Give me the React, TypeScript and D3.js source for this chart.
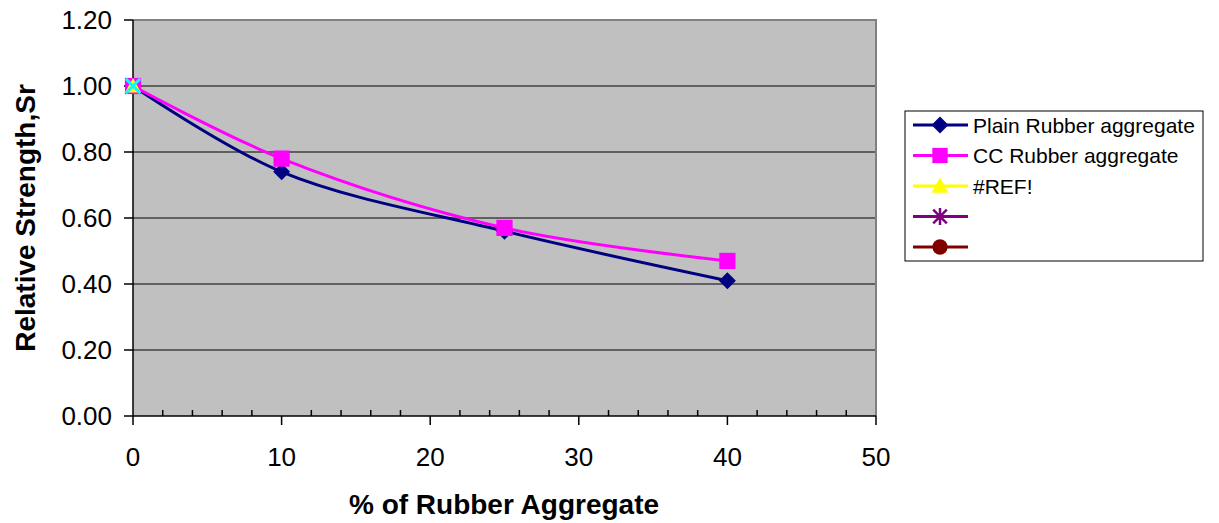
import React from "react";
import * as d3 from "d3";

// Rubber aggregate content (%) and relative strength values
const plainX = [0, 10, 25, 40];
const plainY = [1.0, 0.74, 0.56, 0.41];
const ccX = [0, 10, 25, 40];
const ccY = [1.0, 0.78, 0.57, 0.47];
const refX = [0];
const refY = [1.0];
const extraX = [0];
const extraY = [1.0];

const xTicks = [0, 10, 20, 30, 40, 50];
const xMinorTicks = d3.range(0, 51, 2);
const yTicks = [0, 0.2, 0.4, 0.6, 0.8, 1.0, 1.2];

const legendLabels = ["Plain Rubber aggregate", "CC Rubber aggregate", "#REF!", "", ""];
const legendColors = ["#000080", "#FF00FF", "#FFFF00", "#800080", "#800000"];
const legendShapes = ["diamond", "square", "triangle", "star", "circle"];

const W = 1219;
const H = 523;
const left = 133;
const right = 876;
const top = 20;
const bottom = 416;

const x = d3.scaleLinear().domain([0, 50]).range([left, right]);
const y = d3.scaleLinear().domain([0, 1.2]).range([bottom, top]);

const FONT = "Arial, 'Liberation Sans', sans-serif";

function Marker({ shape, cx, cy, color, size }: { shape: string; cx: number; cy: number; color: string; size: number }) {
  const h = size / 2;
  if (shape === "diamond") {
    return <path d={`M${cx},${cy - h}L${cx + h},${cy}L${cx},${cy + h}L${cx - h},${cy}Z`} fill={color} />;
  }
  if (shape === "square") {
    const s = size * 0.9;
    return <rect x={cx - s / 2} y={cy - s / 2} width={s} height={s} fill={color} />;
  }
  if (shape === "triangle") {
    return <path d={`M${cx},${cy - h}L${cx + h},${cy + h * 0.8}L${cx - h},${cy + h * 0.8}Z`} fill={color} />;
  }
  if (shape === "x") {
    const s = h * 0.8;
    return (
      <path d={`M${cx - s},${cy - s}L${cx + s},${cy + s}M${cx + s},${cy - s}L${cx - s},${cy + s}`} stroke={color} strokeWidth={3} />
    );
  }
  if (shape === "star") {
    const s = h * 0.8;
    return (
      <path
        d={`M${cx - s},${cy - s}L${cx + s},${cy + s}M${cx + s},${cy - s}L${cx - s},${cy + s}M${cx},${cy - h}L${cx},${cy + h}`}
        stroke={color}
        strokeWidth={2.5}
      />
    );
  }
  return <circle cx={cx} cy={cy} r={h * 0.9} fill={color} />;
}

export default function App() {
  const line = d3
    .line<[number, number]>()
    .x((d) => x(d[0]))
    .y((d) => y(d[1]))
    .curve(d3.curveCatmullRom.alpha(0.5));

  const plain = plainX.map((v, i) => [v, plainY[i]] as [number, number]);
  const cc = ccX.map((v, i) => [v, ccY[i]] as [number, number]);

  const lx = 905;
  const ly = 111;
  const rowY = (i: number) => 125 + i * 30.5;

  return (
    <svg width={W} height={H} style={{ position: "absolute", left: 0, top: 0, background: "#fff" }} fontFamily={FONT}>
      <rect x={left} y={top} width={right - left} height={bottom - top} fill="#C0C0C0" />
      {/* horizontal gridlines */}
      {yTicks.slice(1).map((t) => (
        <line key={t} x1={left} x2={right} y1={y(t)} y2={y(t)} stroke="#000" strokeWidth={1} />
      ))}
      {/* plot frame top & right */}
      <line x1={left} x2={right + 1} y1={top} y2={top} stroke="#808080" strokeWidth={2} />
      <line x1={right} x2={right} y1={top} y2={bottom} stroke="#808080" strokeWidth={2} />

      {/* axes */}
      <line x1={left} x2={left} y1={top} y2={bottom} stroke="#000" strokeWidth={1.5} />
      <line x1={left} x2={right} y1={bottom} y2={bottom} stroke="#000" strokeWidth={1.5} />
      {yTicks.map((t) => (
        <g key={t}>
          <line x1={left - 9} x2={left} y1={y(t)} y2={y(t)} stroke="#000" strokeWidth={1.5} />
          <text x={112} y={y(t)} textAnchor="end" dominantBaseline="central" fontSize={26}>
            {t.toFixed(2)}
          </text>
        </g>
      ))}
      {xMinorTicks
        .filter((t) => t % 10 !== 0)
        .map((t) => (
          <line key={t} x1={x(t)} x2={x(t)} y1={bottom} y2={bottom - 6} stroke="#000" strokeWidth={1.5} />
        ))}
      {xTicks.map((t) => (
        <g key={t}>
          <line x1={x(t)} x2={x(t)} y1={bottom} y2={bottom + 9} stroke="#000" strokeWidth={1.5} />
          <text x={x(t)} y={456.5} textAnchor="middle" dominantBaseline="central" fontSize={26}>
            {t}
          </text>
        </g>
      ))}

      {/* series */}
      <path d={line(plain) || ""} fill="none" stroke="#000080" strokeWidth={3} />
      <path d={line(cc) || ""} fill="none" stroke="#FF00FF" strokeWidth={3} />
      {plain.map((d, i) => (
        <Marker key={"p" + i} shape="diamond" cx={x(d[0])} cy={y(d[1])} color="#000080" size={17} />
      ))}
      {cc.map((d, i) => (
        <Marker key={"c" + i} shape="square" cx={x(d[0])} cy={y(d[1])} color="#FF00FF" size={18} />
      ))}
      {refX.map((v, i) => (
        <Marker key={"r" + i} shape="triangle" cx={x(v)} cy={y(refY[i])} color="#FFFF00" size={16} />
      ))}
      {extraX.map((v, i) => (
        <Marker key={"e" + i} shape="x" cx={x(v)} cy={y(extraY[i])} color="#00FFFF" size={18} />
      ))}

      {/* axis titles */}
      <text x={504} y={504} textAnchor="middle" dominantBaseline="central" fontSize={28} fontWeight="bold">
        % of Rubber Aggregate
      </text>
      <text
        transform={`translate(25,${(top + bottom) / 2}) rotate(-90)`}
        textAnchor="middle"
        dominantBaseline="central"
        fontSize={28}
        fontWeight="bold"
      >
        Relative Strength,Sr
      </text>

      {/* legend */}
      <rect x={lx} y={ly} width={298} height={150} fill="#fff" stroke="#000" strokeWidth={1} />
      {legendLabels.map((lab, i) => (
        <g key={i}>
          <line x1={913} x2={968} y1={rowY(i)} y2={rowY(i)} stroke={legendColors[i]} strokeWidth={3} />
          <Marker shape={legendShapes[i]} cx={940} cy={rowY(i)} color={legendColors[i]} size={17} />
          <text x={973} y={rowY(i)} dominantBaseline="central" fontSize={21}>
            {lab}
          </text>
        </g>
      ))}
    </svg>
  );
}
